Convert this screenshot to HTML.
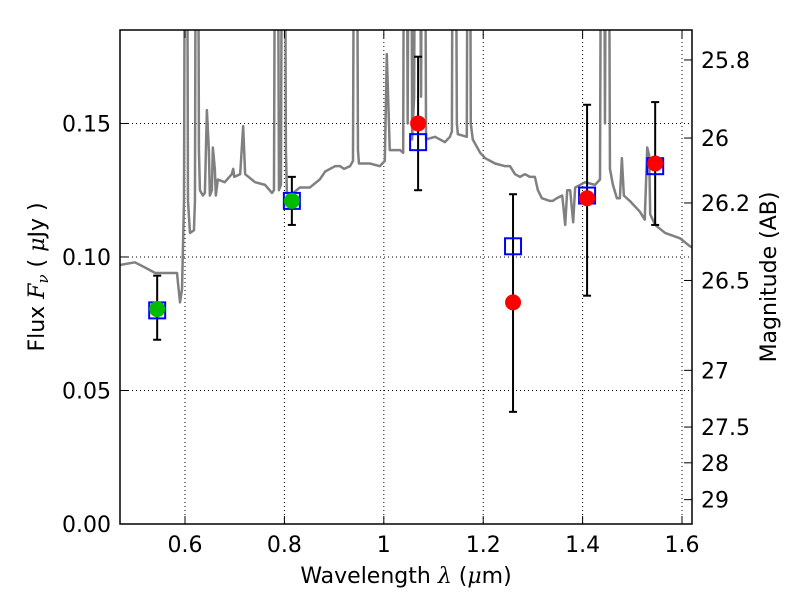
<!DOCTYPE html>
<html><head><meta charset="utf-8"><style>
body{margin:0;background:#fff}
svg text{font-family:"DejaVu Sans","Liberation Sans",sans-serif;fill:#000}
</style></head><body>
<svg id="chart" width="800" height="600" xmlns="http://www.w3.org/2000/svg">
<rect width="800" height="600" fill="#fff"/>
<defs><clipPath id="clip"><rect x="120" y="30" width="572" height="494"/></clipPath></defs>
<g id="grid"></g>
<g id="plot" clip-path="url(#clip)"></g>
<g id="axes"></g>
</svg>
<script>
const specLam=[0.469,0.499,0.520,0.540,0.570,0.584,0.586,0.590,0.594,0.598,0.602,0.606,0.610,0.618,0.620,0.624,0.628,0.630,0.636,0.640,0.644,0.648,0.650,0.654,0.656,0.660,0.662,0.666,0.680,0.694,0.697,0.699,0.711,0.717,0.721,0.741,0.761,0.775,0.779,0.784,0.789,0.793,0.798,0.803,0.805,0.811,0.831,0.851,0.871,0.882,0.902,0.912,0.920,0.932,0.938,0.943,0.948,0.950,0.972,0.992,1.002,1.006,1.012,1.033,1.039,1.043,1.048,1.053,1.057,1.061,1.066,1.075,1.080,1.085,1.103,1.123,1.133,1.137,1.141,1.147,1.149,1.167,1.171,1.175,1.179,1.185,1.194,1.204,1.214,1.224,1.244,1.254,1.264,1.274,1.284,1.294,1.304,1.310,1.318,1.334,1.340,1.348,1.359,1.365,1.369,1.375,1.381,1.385,1.405,1.425,1.435,1.440,1.445,1.450,1.455,1.461,1.469,1.475,1.479,1.483,1.495,1.515,1.525,1.530,1.534,1.536,1.546,1.566,1.596,1.616,1.640];
const specFlux=[0.097,0.098,0.096,0.094,0.094,0.094,0.090,0.083,0.088,0.121,0.40,0.121,0.109,0.110,0.121,0.40,0.140,0.125,0.123,0.124,0.155,0.140,0.123,0.125,0.141,0.133,0.123,0.129,0.128,0.131,0.133,0.130,0.131,0.149,0.131,0.128,0.127,0.124,0.125,0.40,0.125,0.127,0.40,0.140,0.124,0.123,0.126,0.126,0.129,0.132,0.134,0.134,0.133,0.134,0.136,0.40,0.140,0.135,0.135,0.134,0.136,0.176,0.140,0.140,0.139,0.40,0.150,0.40,0.144,0.160,0.40,0.160,0.40,0.144,0.145,0.143,0.145,0.147,0.40,0.150,0.146,0.145,0.40,0.150,0.144,0.142,0.139,0.137,0.136,0.135,0.134,0.134,0.131,0.130,0.131,0.130,0.130,0.125,0.122,0.121,0.121,0.122,0.123,0.112,0.125,0.125,0.113,0.126,0.128,0.127,0.129,0.40,0.150,0.40,0.133,0.127,0.122,0.122,0.137,0.123,0.121,0.117,0.114,0.141,0.138,0.116,0.112,0.109,0.107,0.104,0.102];
const photLam=[0.544,0.815,1.069,1.260,1.409,1.546];
const obsFlux=[0.0805,0.121,0.150,0.083,0.122,0.135];
const errLo=[0.069,0.112,0.125,0.042,0.0855,0.112];
const errHi=[0.093,0.130,0.175,0.1235,0.157,0.158];
const modelFlux=[0.080,0.121,0.143,0.104,0.123,0.134];
const obsColor=['#00bb00','#00bb00','red','red','red','red'];
const xTicks=[0.6,0.8,1.0,1.2,1.4,1.6];
const xTickLabels=['0.6','0.8','1','1.2','1.4','1.6'];
const yTicks=[0,0.05,0.10,0.15];
const yTickLabels=['0.00','0.05','0.10','0.15'];
const magTicks=[25.8,26,26.2,26.5,27,27.5,28,29];
const magTickLabels=['25.8','26','26.2','26.5','27','27.5','28','29'];

const L=120,R=692,T=30,B=524;
const xMin=0.4692,xMax=1.6201,yMin=0,yMax=0.185;
const X=v=>L+(v-xMin)/(xMax-xMin)*(R-L);
const Y=v=>B-(v-yMin)/(yMax-yMin)*(B-T);
const NS='http://www.w3.org/2000/svg';
function mk(parent,tag,attrs){const e=document.createElementNS(NS,tag);for(const k in attrs)e.setAttribute(k,attrs[k]);document.getElementById(parent).appendChild(e);return e;}

xTicks.forEach((t,i)=>{
 const g=mk('grid','line',{x1:X(t),x2:X(t),y1:T,y2:B,stroke:'#000','stroke-width':1,'stroke-dasharray':'1,3'});
 
 
});
yTicks.forEach(t=>{
 const g=mk('grid','line',{x1:L,x2:R,y1:Y(t),y2:Y(t),stroke:'#000','stroke-width':1,'stroke-dasharray':'1,3'});
 
 
});

const sp=mk('plot','polyline',{points:specLam.map((l,i)=>X(l)+','+Y(specFlux[i])).join(' '),fill:'none',stroke:'#808080','stroke-width':2.5,'stroke-linejoin':'round'});



photLam.forEach((l,i)=>{
 const x=X(l);
 const e=mk('plot','line',{x1:x,x2:x,y1:Y(errLo[i]),y2:Y(errHi[i]),stroke:'#000','stroke-width':2});
 
 
 [errLo[i],errHi[i]].forEach(v=>{
  const c=mk('plot','line',{x1:x-4,x2:x+4,y1:Y(v),y2:Y(v),stroke:'#000','stroke-width':2});
  
  
 });
});
photLam.forEach((l,i)=>{
 const s=mk('plot','rect',{x:X(l)-8,y:Y(modelFlux[i])-8,width:16,height:16,fill:'none',stroke:'#0000ff','stroke-width':2});
 
 
});
photLam.forEach((l,i)=>{
 const c=mk('plot','circle',{cx:X(l),cy:Y(obsFlux[i]),r:8,fill:obsColor[i]});
 
 
});

const fr=mk('axes','rect',{x:L,y:T,width:R-L,height:B-T,fill:'none',stroke:'#000','stroke-width':1.5});


xTicks.forEach((t,i)=>{
 const x=X(t);
 mk('axes','line',{x1:x,x2:x,y1:B,y2:B-8,stroke:'#000','stroke-width':1});
 mk('axes','line',{x1:x,x2:x,y1:T,y2:T+8,stroke:'#000','stroke-width':1});
 const tx=mk('axes','text',{x:x,y:B+28,'text-anchor':'middle','font-size':22});
 tx.textContent=xTickLabels[i];
 
 
});
yTicks.forEach((t,i)=>{
 const y=Y(t);
 mk('axes','line',{x1:L,x2:L+8,y1:y,y2:y,stroke:'#000','stroke-width':1});
 const tx=mk('axes','text',{x:L-9,y:y+8,'text-anchor':'end','font-size':22});
 tx.textContent=yTickLabels[i];
 
 
});
magTicks.forEach((m,i)=>{
 const y=Y(Math.pow(10,(23.9-m)/2.5));
 mk('axes','line',{x1:R-8,x2:R,y1:y,y2:y,stroke:'#000','stroke-width':1});
 const tx=mk('axes','text',{x:R+9,y:y+8,'font-size':22});
 tx.textContent=magTickLabels[i];
 
 
});
</script>
<svg style="position:absolute;left:0;top:0" width="800" height="600" xmlns="http://www.w3.org/2000/svg">
<text x="406" y="583" text-anchor="middle" font-size="22">Wavelength  <tspan font-style="italic" font-family="DejaVu Serif, serif">λ</tspan> (<tspan font-style="italic" font-family="DejaVu Serif, serif">μ</tspan>m)</text>
<text transform="translate(44,277) rotate(-90)" text-anchor="middle" font-size="22">Flux  <tspan font-style="italic" font-family="DejaVu Serif, serif">F<tspan font-size="15" dy="4">ν</tspan></tspan><tspan dy="-4">  ( </tspan><tspan font-style="italic" font-family="DejaVu Serif, serif">μ</tspan>Jy )</text>
<text transform="translate(776,277) rotate(-90)" text-anchor="middle" font-size="22">Magnitude (AB)</text>
</svg>
</body></html>
